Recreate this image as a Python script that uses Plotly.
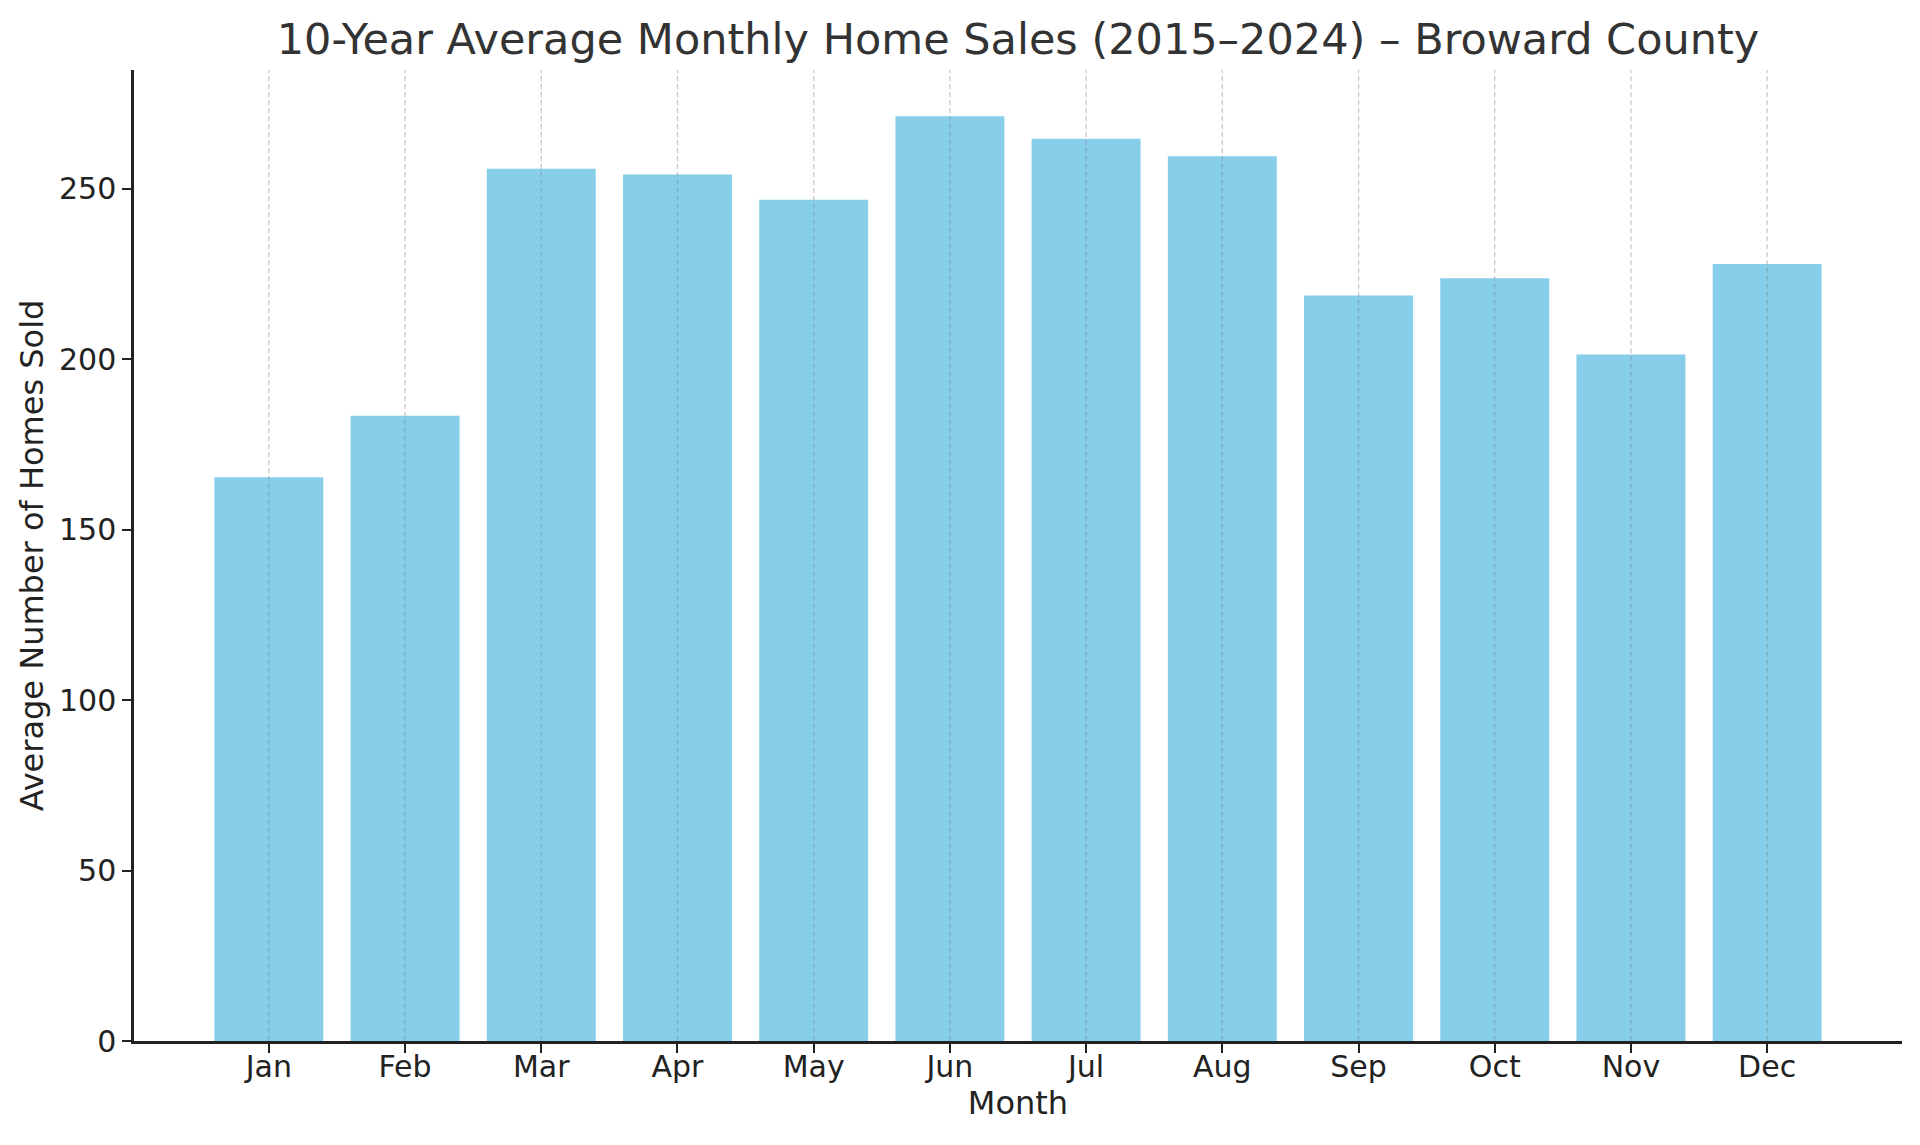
import plotly.graph_objects as go

months = ["Jan", "Feb", "Mar", "Apr", "May", "Jun", "Jul", "Aug", "Sep", "Oct", "Nov", "Dec"]
avg_sales = [165.3, 183.4, 255.8, 254.1, 246.7, 271.2, 264.6, 259.5, 218.6, 223.7, 201.3, 227.9]
y_ticks = [0, 50, 100, 150, 200, 250]

FONT = "DejaVu Sans"
W, H = 1904, 1129  # page adds an 8px body margin
L, R, T, B = 126, 10, 62, 96

fig = go.Figure()
fig.add_trace(go.Bar(
    x=months, y=avg_sales, width=0.8,
    marker=dict(color="#87CEEB", line=dict(width=0)),
    showlegend=False,
))

# dashed vertical grid lines drawn above bars (as in the reference)
for m in months:
    fig.add_shape(type="line", xref="x", yref="paper", x0=m, x1=m, y0=0, y1=1,
                  line=dict(color="rgba(128,128,128,0.42)", width=1.3, dash="5px,3px"),
                  layer="above")

ymax = max(avg_sales) * 1.05
fig.update_layout(
    width=W, height=H,
    margin=dict(l=L, r=R, t=T, b=B),
    paper_bgcolor="white", plot_bgcolor="white",
    font=dict(family=FONT, color="#222222", size=30),
    title=dict(text="10-Year Average Monthly Home Sales (2015–2024) – Broward County",
               x=(L + (W - R)) / 2 / W, xanchor="center", y=1 - 31 / H, yanchor="middle",
               font=dict(family=FONT, size=43, color="#333333")),
    bargap=0.2,
)
fig.update_xaxes(
    title=dict(text="Month", font=dict(size=32, family=FONT, color="#222222"), standoff=9),
    range=[-0.99, 11.99], showgrid=False, showline=True, linecolor="#222222", linewidth=2.5,
    ticks="outside", ticklen=9, tickwidth=2, tickcolor="#222222", ticklabelstandoff=-12,
    tickfont=dict(size=30, family=FONT, color="#222222"), zeroline=False,
)
fig.update_yaxes(
    title=dict(text="Average Number of Homes Sold", font=dict(size=32, family=FONT, color="#222222"), standoff=6),
    range=[0, ymax], tickvals=y_ticks, showgrid=False, showline=True, linecolor="#222222", linewidth=2.5,
    ticks="outside", ticklen=9, tickwidth=2, tickcolor="#222222",
    tickfont=dict(size=30, family=FONT, color="#222222"), zeroline=False,
)

fig.write_html("out.html")
